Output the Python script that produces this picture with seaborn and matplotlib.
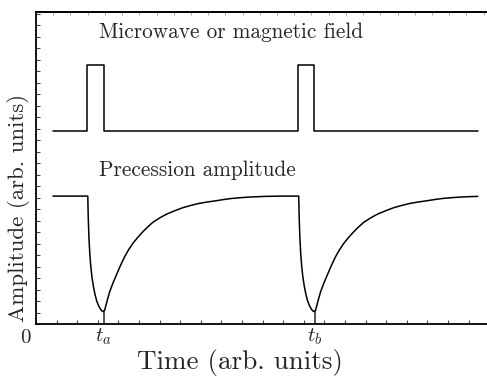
import matplotlib
matplotlib.use("Agg")
import matplotlib.pyplot as plt
import numpy as np
import pandas as pd
import seaborn as sns
from matplotlib.ticker import MultipleLocator, FixedLocator

# pulse train (microwave / magnetic field), time in arb. units
pulse_t = [1.7, 5.17, 5.17, 6.8, 6.8, 26.33, 26.33, 27.95, 27.95, 44.4]
pulse_y = [19.3, 19.3, 25.9, 25.9, 19.3, 19.3, 25.9, 25.9, 19.3, 19.3]

# precession amplitude
prec_t = [1.7, 5.2, 5.25, 5.32, 5.4, 5.5, 5.62, 5.76, 5.92, 6.1, 6.28, 6.47, 6.62, 6.75,
          6.9, 7.15, 7.4, 7.73, 8.07, 8.48, 8.9, 9.3, 9.73, 10.23, 10.73, 11.23,
          11.73, 12.4, 13.07, 13.9, 14.73, 15.57, 16.4, 17.23, 18.07, 18.9, 19.73,
          20.57, 21.4, 23.07, 24.73, 26.4,
          26.45, 26.52, 26.6, 26.7, 26.82, 26.96, 27.12, 27.3, 27.48, 27.67, 27.82, 27.95,
          28.1, 28.35, 28.6, 28.93, 29.27, 29.68, 30.1, 30.5, 30.93, 31.43, 31.93, 32.43,
          32.93, 33.6, 34.27, 35.1, 35.93, 36.77, 37.6, 38.43, 39.27, 40.1, 40.93,
          41.77, 42.6, 43.5, 44.4]
prec_y = [12.8, 12.8, 10.6, 8.6, 7.1, 5.8, 4.7, 3.8, 3.0, 2.3, 1.85, 1.5, 1.32, 1.25,
          1.4, 2.35, 3.23, 4.1, 4.9, 5.85, 6.73, 7.43, 8.07, 8.68, 9.23, 9.72,
          10.17, 10.6, 10.97, 11.32, 11.63, 11.87, 12.07, 12.21, 12.33, 12.46, 12.57,
          12.64, 12.7, 12.77, 12.8, 12.8,
          10.6, 8.6, 7.1, 5.8, 4.7, 3.8, 3.0, 2.3, 1.85, 1.5, 1.32, 1.25,
          1.4, 2.35, 3.23, 4.1, 4.9, 5.85, 6.73, 7.43, 8.07, 8.68, 9.23, 9.72,
          10.17, 10.6, 10.97, 11.32, 11.63, 11.87, 12.07, 12.21, 12.33, 12.46, 12.57,
          12.64, 12.7, 12.74, 12.77]

tick_pos = [6.8, 28.0]
tick_lab = ["$t_a$", "$t_b$"]

sns.set_style("ticks")
plt.rcParams['font.family'] = ['cmr10', 'DejaVu Serif']
plt.rcParams['mathtext.fontset'] = 'cm'
plt.rcParams['axes.formatter.use_mathtext'] = True

fig = plt.figure(figsize=(4.87, 3.76), dpi=100)
ax = fig.add_axes([0.074, 0.138, 0.95, 0.830])

df_p = pd.DataFrame({'t': pulse_t, 'y': pulse_y})
df_a = pd.DataFrame({'t': prec_t, 'y': prec_y})
sns.lineplot(data=df_p, x='t', y='y', sort=False, estimator=None, color='black', lw=1.1, ax=ax)
sns.lineplot(data=df_a, x='t', y='y', sort=False, estimator=None, color='black', lw=1.1, ax=ax)

ax.set_xlim(0, 46.5)
ax.set_ylim(0, 31.2)

for s in ['left', 'bottom', 'top']:
    ax.spines[s].set_linewidth(1.3)
    ax.spines[s].set_color('black')
ax.spines['right'].set_visible(False)

ax.xaxis.set_major_locator(FixedLocator(tick_pos))
ax.set_xticklabels(tick_lab, fontsize=15)
ax.xaxis.set_minor_locator(MultipleLocator(2.07))
ax.yaxis.set_major_locator(FixedLocator([]))
ax.yaxis.set_minor_locator(MultipleLocator(1.15))
ax.tick_params(axis='x', which='major', direction='in', length=10, width=1.1, pad=2)
ax.tick_params(axis='both', which='minor', direction='in', length=3, width=0.8, color='#444444')

top = ax.secondary_xaxis('top')
top.xaxis.set_major_locator(FixedLocator([]))
top.xaxis.set_minor_locator(MultipleLocator(1.73))
top.tick_params(which='minor', direction='in', length=2.5, width=0.6, color='#999999')
top.spines['top'].set_linewidth(1.3)

ax.set_xlabel("Time (arb. units)", fontsize=19.5)
ax.set_ylabel("Amplitude (arb. units)", fontsize=16.5)
ax.xaxis.set_label_coords(0.44, -0.079)
ax.yaxis.set_label_coords(-0.014, 0.373)

ax.text(0.137, 0.936, "Microwave or magnetic field", transform=ax.transAxes,
        fontsize=15.3, va='center', ha='left')
ax.text(0.137, 0.494, "Precession amplitude", transform=ax.transAxes,
        fontsize=15.3, va='center', ha='left')
ax.text(-0.022, -0.045, "0", transform=ax.transAxes, fontsize=15, va='center', ha='center')

fig.savefig("out.png", dpi=100)
